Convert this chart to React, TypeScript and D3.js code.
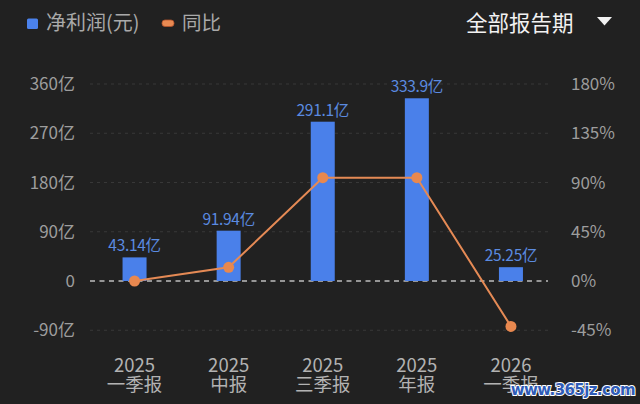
import React from 'react';
import * as d3 from 'd3';

const periods = ['2025|一季报', '2025|中报', '2025|三季报', '2025|年报', '2026|一季报'];
const profit = [43.14, 91.94, 291.1, 333.9, 25.25];
const profitLabels = ['43.14亿', '91.94亿', '291.1亿', '333.9亿', '25.25亿'];
const yoy = [0, 12.5, 94.4, 94.4, -41.5];
const leftTicks = [-90, 0, 90, 180, 270, 360];
const rightTicks = [-45, 0, 45, 90, 135, 180];

const W = 640;
const H = 404;
const FONT = '"Noto Sans CJK SC", "Noto Sans", sans-serif';

export default function App() {
  const x = d3.scaleBand<string>().domain(periods).range([87.5, 558]).padding(0);
  const cx = (p: string) => (x(p) ?? 0) + x.bandwidth() / 2;
  const yL = d3.scaleLinear().domain([-90, 360]).range([330.25, 84]);
  const yR = d3.scaleLinear().domain([-45, 180]).range([330.25, 84]);
  const barW = 24;

  const line = d3
    .line<number>()
    .x((_, i) => cx(periods[i]))
    .y((d) => yR(d));

  return (
    <div style={{ position: 'absolute', left: 0, top: 0 }}>
      <svg width={W} height={H} style={{ display: 'block', fontFamily: FONT }}>
        <rect width={W} height={H} fill="#212121" />

        {/* legend */}
        <rect x={27} y={18.5} width={11} height={10.5} rx={1.5} fill="#4b82ec" />
        <text x={46} y={30} fontSize={20} fill="#a9a9a9">净利润(元)</text>
        <rect x={162} y={20} width={12} height={6.5} rx={3} fill="#e98a52" stroke="#b4532c" strokeWidth={0.8} />
        <text x={182} y={30} fontSize={19.5} fill="#a9a9a9">同比</text>

        {/* period selector */}
        <text x={466} y={30.5} fontSize={21.5} fill="#f2f2f2">全部报告期</text>
        <path d="M597,17 L612,17 L604.5,25.5 Z" fill="#f2f2f2" />

        {/* grid */}
        {leftTicks.map((t) => (
          <line
            key={t}
            x1={90}
            x2={548}
            y1={yL(t)}
            y2={yL(t)}
            stroke={t === 0 ? '#bdbdbd' : '#383838'}
            strokeWidth={t === 0 ? 1.4 : 1}
            strokeDasharray={t === 0 ? '5,4.5' : '3,4'}
          />
        ))}

        {/* left axis */}
        {leftTicks.map((t) => (
          <text
            key={t}
            x={75}
            y={yL(t)}
            dy="0.36em"
            textAnchor="end"
            fontSize={17}
            fill="#9d9d9d"
          >
            {t === 0 ? '0' : `${t}亿`}
          </text>
        ))}

        {/* right axis */}
        {rightTicks.map((t) => (
          <text key={t} x={571} y={yR(t)} dy="0.36em" fontSize={17} fill="#9d9d9d">
            {`${t}%`}
          </text>
        ))}

        {/* bars */}
        {profit.map((v, i) => (
          <rect
            key={periods[i]}
            x={cx(periods[i]) - barW / 2}
            y={yL(v)}
            width={barW}
            height={yL(0) - yL(v)}
            fill="#4a80ea"
          />
        ))}

        {/* bar labels */}
        {profit.map((v, i) => (
          <text
            key={periods[i]}
            x={cx(periods[i])}
            y={yL(v) - 6}
            textAnchor="middle"
            fontSize={15.5}
            fill="#5b8be0"
            letterSpacing={-0.3}
          >
            {profitLabels[i]}
          </text>
        ))}

        {/* yoy line */}
        <path d={line(yoy) ?? ''} fill="none" stroke="#e58a55" strokeWidth={2} />
        {yoy.map((v, i) => (
          <circle key={periods[i]} cx={cx(periods[i])} cy={yR(v)} r={5.5} fill="#e8884f" />
        ))}

        {/* category labels */}
        {periods.map((p) => {
          const [year, name] = p.split('|');
          return (
            <g key={p}>
              <text x={cx(p)} y={372} textAnchor="middle" fontSize={18.5} fill="#b2b2b2">
                {year}
              </text>
              <text x={cx(p)} y={391} textAnchor="middle" fontSize={18.5} fill="#b2b2b2">
                {name}
              </text>
            </g>
          );
        })}

        {/* watermark */}
        <text
          x={635}
          y={395}
          textAnchor="end"
          fontSize={15}
          fontWeight="bold"
          fontFamily='"DejaVu Sans", sans-serif'
          fill="#2f5cb8"
          stroke="#ffffff"
          strokeWidth={2}
          paintOrder="stroke"
          letterSpacing={-0.6}
        >
          www.365jz.com
        </text>
      </svg>
    </div>
  );
}
